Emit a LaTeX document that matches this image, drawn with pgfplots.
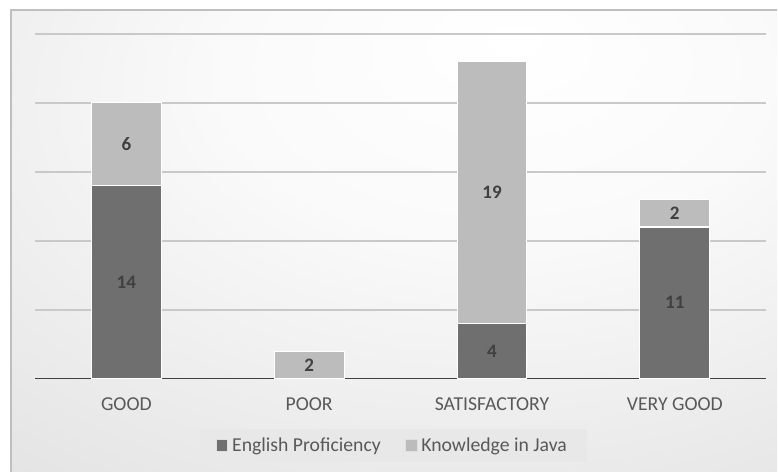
\documentclass[border=0pt]{standalone}
\usepackage{pgfplots}
\pgfplotsset{compat=1.18}
\usepackage{fontspec}
\setmainfont{Carlito}

\definecolor{engcol}{HTML}{6F6F6F}
\definecolor{javacol}{HTML}{BCBCBC}
\definecolor{txtcol}{HTML}{595959}
\definecolor{lblcol}{HTML}{404040}
\definecolor{gridcol}{HTML}{C9C9C9}
\definecolor{legfill}{HTML}{E8E8E8}

% soft radial light for the chart panel, brightest towards the upper right
\pgfdeclareradialshading{panel}{\pgfpoint{8bp}{22bp}}{%
  color(0bp)=(white);
  color(18bp)=(black!2);
  color(45bp)=(black!10);
  color(70bp)=(black!19);
  color(100bp)=(black!23)}

\begin{document}
\begin{tikzpicture}[x=0.75pt,y=0.75pt]
  \path (0,0) rectangle (778,472);
  \shade[shading=panel] (11,0) rectangle (778,462);
  \draw[black!25, line width=1.2pt] (778,462) -- (11,462) -- (11,0);

  \begin{axis}[
    at={(26.25pt,69.75pt)}, anchor=south west,
    scale only axis,
    width=549pt, height=258.75pt,
    ybar stacked,
    bar width=52.5pt,
    xmin=-0.5, xmax=3.5,
    ymin=0, ymax=25,
    xtick={0,1,2,3},
    xticklabels={GOOD, POOR, SATISFACTORY, VERY GOOD},
    ytick={0,5,...,25},
    yticklabels={},
    major tick length=0pt,
    ymajorgrids,
    grid style={gridcol, line width=1.3pt},
    axis x line*=bottom,
    axis y line*=left,
    x axis line style={draw=none},
    y axis line style={draw=none},
    xticklabel style={font=\fontsize{14.8}{17}\selectfont, text=txtcol, yshift=-11pt},
    /pgf/number format/assume math mode=true,
    nodes near coords={\pgfmathfloatifflags{\pgfplotspointmeta}{0}{}{\pgfmathprintnumber{\pgfplotspointmeta}}},
    nodes near coords style={font=\fontsize{14.3}{17}\selectfont\bfseries, text=lblcol, anchor=center},
    legend columns=2,
    legend style={
      at={(0.49,-0.194)}, anchor=center,
      draw=none, fill=legfill,
      font=\fontsize{14.8}{17}\selectfont, text=txtcol,
      inner xsep=12pt, inner ysep=4.5pt,
      nodes={inner xsep=3pt},
      /tikz/every even column/.append style={column sep=15pt},
    },
    legend image code/.code={\filldraw[#1, draw=white!88!black, line width=0.6pt] (0pt,-4.4pt) rectangle (8.8pt,4.4pt);},
  ]
    \addplot[fill=engcol, draw=white, line width=0.8pt]
      coordinates {(0,14) (1,0) (2,4) (3,11)};
    \addplot[fill=javacol, draw=white, line width=0.8pt]
      coordinates {(0,6) (1,2) (2,19) (3,2)};
    \legend{English Proficiency, Knowledge in Java}
    \draw[black!75, line width=1.6pt] (axis cs:-0.5,0) -- (axis cs:3.5,0);
  \end{axis}
\end{tikzpicture}
\end{document}
